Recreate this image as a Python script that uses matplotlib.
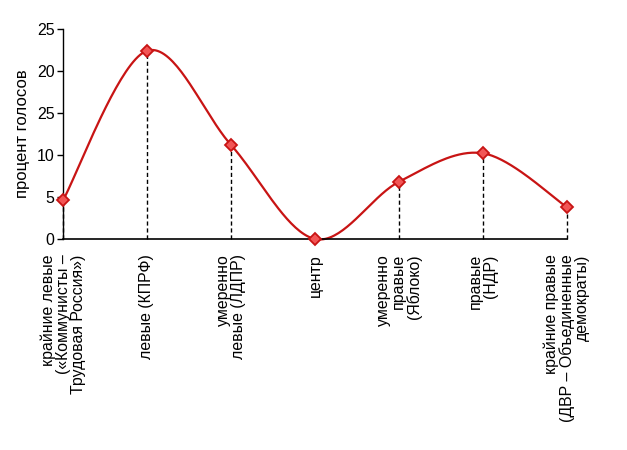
import numpy as np
import matplotlib
matplotlib.use("Agg")
import matplotlib.pyplot as plt

plt.rcParams['font.family'] = ['Liberation Sans', 'DejaVu Sans']

categories = [
    "крайние левые\n(«Коммунисты –\nТрудовая Россия»)",
    "левые (КПРФ)",
    "умеренно\nлевые (ЛДПР)",
    "центр",
    "умеренно\nправые\n(Яблоко)",
    "правые\n(НДР)",
    "крайние правые\n(ДВР – Объединенные\nдемократы)",
]
votes = [4.6, 22.4, 11.2, 0.0, 6.8, 10.2, 3.8]
y_ticks = [0, 5, 10, 15, 20, 25]
y_tick_labels = ["0", "5", "10", "25", "20", "25"]  # as printed in the original


def smooth_curve(xs, ys, n=40):
    # Excel-style smoothed line: Catmull-Rom as cubic Bezier segments
    pts = np.column_stack([xs, ys]).astype(float)
    ext = np.vstack([pts[0], pts, pts[-1]])
    out = []
    t = np.linspace(0, 1, n)[:, None]
    for i in range(len(pts) - 1):
        p0, p1, p2, p3 = ext[i], ext[i + 1], ext[i + 2], ext[i + 3]
        c1 = p1 + (p2 - p0) / 6
        c2 = p2 - (p3 - p1) / 6
        seg = ((1 - t) ** 3) * p1 + 3 * ((1 - t) ** 2) * t * c1 \
            + 3 * (1 - t) * t ** 2 * c2 + t ** 3 * p2
        out.append(seg if i == 0 else seg[1:])
    out = np.vstack(out)
    return out[:, 0], out[:, 1]


x = np.arange(len(categories))
red = "#c81414"

fig = plt.figure(figsize=(6.27, 4.5), dpi=100)
ax = fig.add_axes([0.1005, 0.469, 0.8035, 0.4667])

# drop lines
ax.vlines(x, 0, votes, colors="black", linestyles=(0, (3, 2)), linewidth=1.0,
          zorder=1, clip_on=False)

sx, sy = smooth_curve(x, votes)
ax.plot(sx, sy, color=red, linewidth=1.6, zorder=2, clip_on=False)
ax.plot(x, votes, linestyle="none", marker="D", markersize=6.5,
        markerfacecolor="#f25555", markeredgecolor=red, markeredgewidth=1.3,
        zorder=3, clip_on=False)

ax.set_xlim(0, len(categories) - 1)
ax.set_ylim(0, 25)
ax.set_yticks(y_ticks)
ax.set_yticklabels(y_tick_labels, fontsize=11.5)
ax.set_xticks(x)
ax.set_xticklabels(categories, rotation=90, fontsize=11.4, va="top", ha="center",
                   multialignment="right", linespacing=1.0)
ax.tick_params(axis="x", length=0, pad=11)
ax.tick_params(axis="y", direction="out", length=4, width=1, pad=2)
ax.set_ylabel("процент голосов", fontsize=12, labelpad=5)

ax.spines["top"].set_visible(False)
ax.spines["right"].set_visible(False)
ax.spines["left"].set_linewidth(1.0)
ax.spines["bottom"].set_linewidth(1.2)

fig.savefig("out.png", dpi=100)
